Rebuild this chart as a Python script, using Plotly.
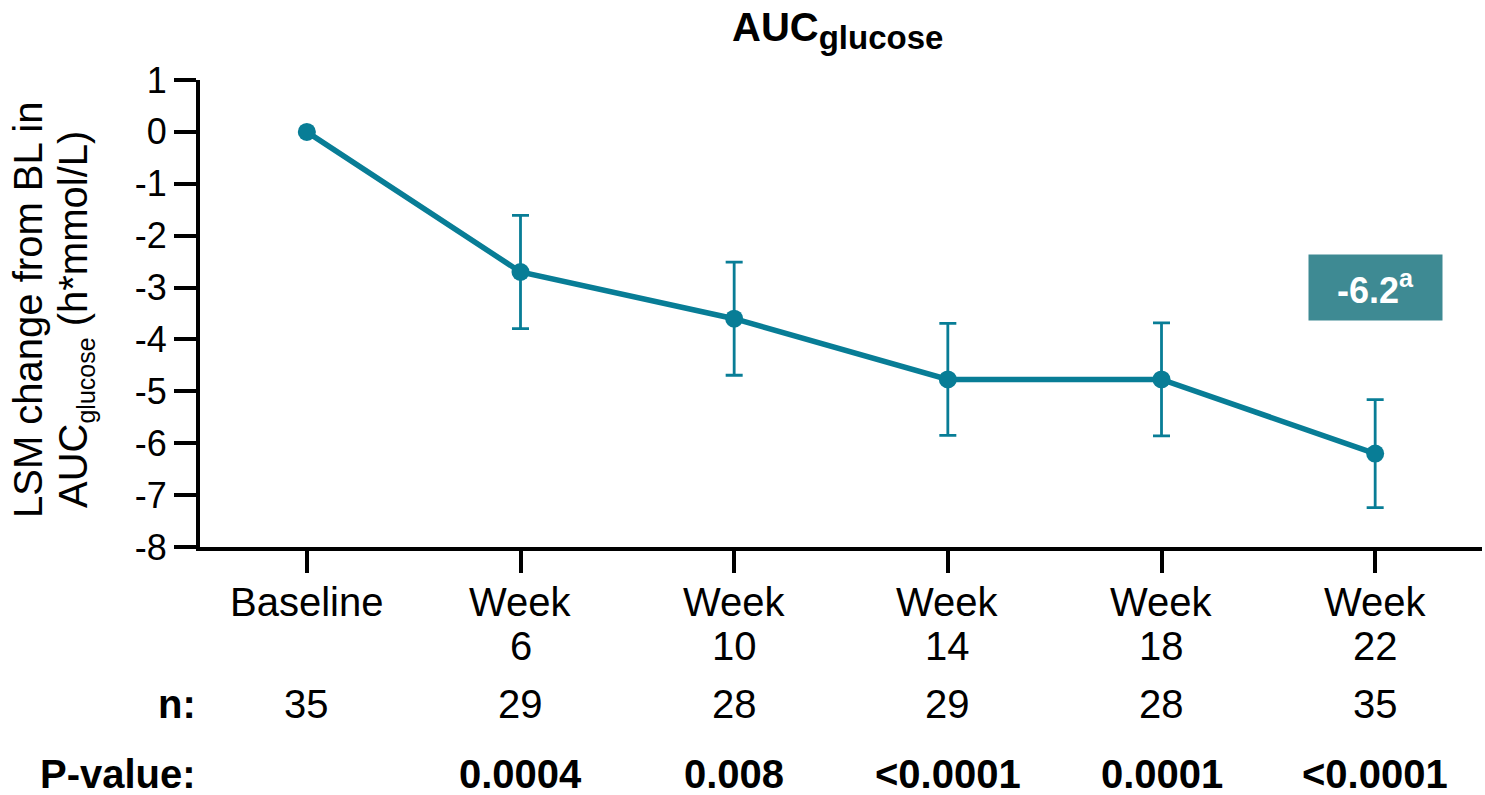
import plotly.graph_objects as go

# ---- data -------------------------------------------------------------
categories = ["Baseline", "Week 6", "Week 10", "Week 14", "Week 18", "Week 22"]
label_line1 = ["Baseline", "Week", "Week", "Week", "Week", "Week"]
label_line2 = ["", "6", "10", "14", "18", "22"]
lsm_change = [0.0, -2.7, -3.6, -4.77, -4.77, -6.2]
lsm_error = [None, 1.09, 1.09, 1.08, 1.09, 1.04]
n_counts = [35, 29, 28, 29, 28, 35]
p_values = ["", "0.0004", "0.008", "<0.0001", "0.0001", "<0.0001"]
y_ticks = [1, 0, -1, -2, -3, -4, -5, -6, -7, -8]
final_label = "-6.2"

# ---- layout geometry ---------------------------------------------------
W, H = 1485, 795
M_L, M_R, M_T, M_B = 200, 3, 80, 248
PLOT_H = H - M_T - M_B
PLOT_BOTTOM = H - M_B

TEAL = "#087D96"
BOX = "#3E8A93"
FONT = "Arial, Liberation Sans, sans-serif"


def paper_y(px):
    """Convert a pixel row (from the top of the page) to paper y."""
    return (PLOT_BOTTOM - px) / PLOT_H


fig = go.Figure()

fig.add_trace(go.Scatter(
    x=categories,
    y=lsm_change,
    mode="lines+markers",
    line=dict(color=TEAL, width=5.5),
    marker=dict(color=TEAL, size=18),
    error_y=dict(type="data", array=lsm_error, symmetric=True,
                 color=TEAL, thickness=2.8, width=8.5),
    showlegend=False,
    hoverinfo="x+y",
))

annotations = []

# two-line category labels under the axis
for cat, l1, l2 in zip(categories, label_line1, label_line2):
    annotations.append(dict(x=cat, xref="x", y=paper_y(602), yref="paper",
                            text=l1, showarrow=False, xanchor="center",
                            yanchor="middle",
                            font=dict(family=FONT, size=40, color="black")))
    if l2:
        annotations.append(dict(x=cat, xref="x", y=paper_y(646), yref="paper",
                                text=l2, showarrow=False, xanchor="center",
                                yanchor="middle",
                                font=dict(family=FONT, size=40, color="black")))

# n row and P-value row
annotations.append(dict(x=0, xref="paper", xshift=-2, y=paper_y(704), yref="paper",
                        text="<b>n:</b>", showarrow=False, xanchor="right",
                        yanchor="middle",
                        font=dict(family=FONT, size=40, color="black")))
annotations.append(dict(x=0, xref="paper", xshift=-2, y=paper_y(774), yref="paper",
                        text="<b>P-value:</b>", showarrow=False, xanchor="right",
                        yanchor="middle",
                        font=dict(family=FONT, size=40, color="black")))
for cat, n, p in zip(categories, n_counts, p_values):
    annotations.append(dict(x=cat, xref="x", y=paper_y(704), yref="paper",
                            text=str(n), showarrow=False, xanchor="center",
                            yanchor="middle",
                            font=dict(family=FONT, size=40, color="black")))
    if p:
        annotations.append(dict(x=cat, xref="x", y=paper_y(774), yref="paper",
                                text="<b>" + p.replace("<", "&lt;") + "</b>",
                                showarrow=False, xanchor="center",
                                yanchor="middle",
                                font=dict(family=FONT, size=40, color="black")))

# y-axis title, two lines
annotations.append(dict(x=0, xref="paper", xshift=-172, y=paper_y(310), yref="paper",
                        text="LSM change from BL in", textangle=-90,
                        showarrow=False, xanchor="center", yanchor="middle",
                        font=dict(family=FONT, size=40, color="black")))
annotations.append(dict(x=0, xref="paper", xshift=-125, y=paper_y(320), yref="paper",
                        text="AUC<sub><span style='font-size:25px'>glucose</span></sub> (h*mmol/L)",
                        textangle=-90,
                        showarrow=False, xanchor="center", yanchor="middle",
                        font=dict(family=FONT, size=40, color="black")))

# value badge for the last visit
annotations.append(dict(x=categories[-1], xref="x", y=-3.0, yref="y",
                        text="<b>" + final_label + "<sup>a</sup></b>",
                        showarrow=False, xanchor="center", yanchor="middle",
                        width=133, height=65, bgcolor=BOX, borderpad=0,
                        font=dict(family=FONT, size=36, color="white")))

# chart title
annotations.append(dict(x=0.5, xref="paper", xshift=-4, y=paper_y(30), yref="paper",
                        text="<b>AUC<sub><span style='font-size:33px'>glucose</span></sub></b>",
                        showarrow=False, xanchor="center", yanchor="middle",
                        font=dict(family=FONT, size=40, color="black")))

fig.update_layout(
    width=W, height=H,
    margin=dict(l=M_L, r=M_R, t=M_T, b=M_B),
    paper_bgcolor="white", plot_bgcolor="white",
    annotations=annotations,
    font=dict(family=FONT, color="black"),
)

fig.update_xaxes(
    type="category", range=[-0.5, 5.5],
    showgrid=False, zeroline=False,
    showline=True, linecolor="black", linewidth=4,
    ticks="outside", ticklen=22, tickwidth=4, tickcolor="black",
    showticklabels=False,
)
fig.update_yaxes(
    range=[-8, 1], tickvals=y_ticks, ticktext=[str(v) for v in y_ticks],
    showgrid=False, zeroline=False,
    showline=True, linecolor="black", linewidth=4,
    ticks="outside", ticklen=22, tickwidth=4, tickcolor="black",
    tickfont=dict(family=FONT, size=36, color="black"),
)

fig.write_html("out.html")
